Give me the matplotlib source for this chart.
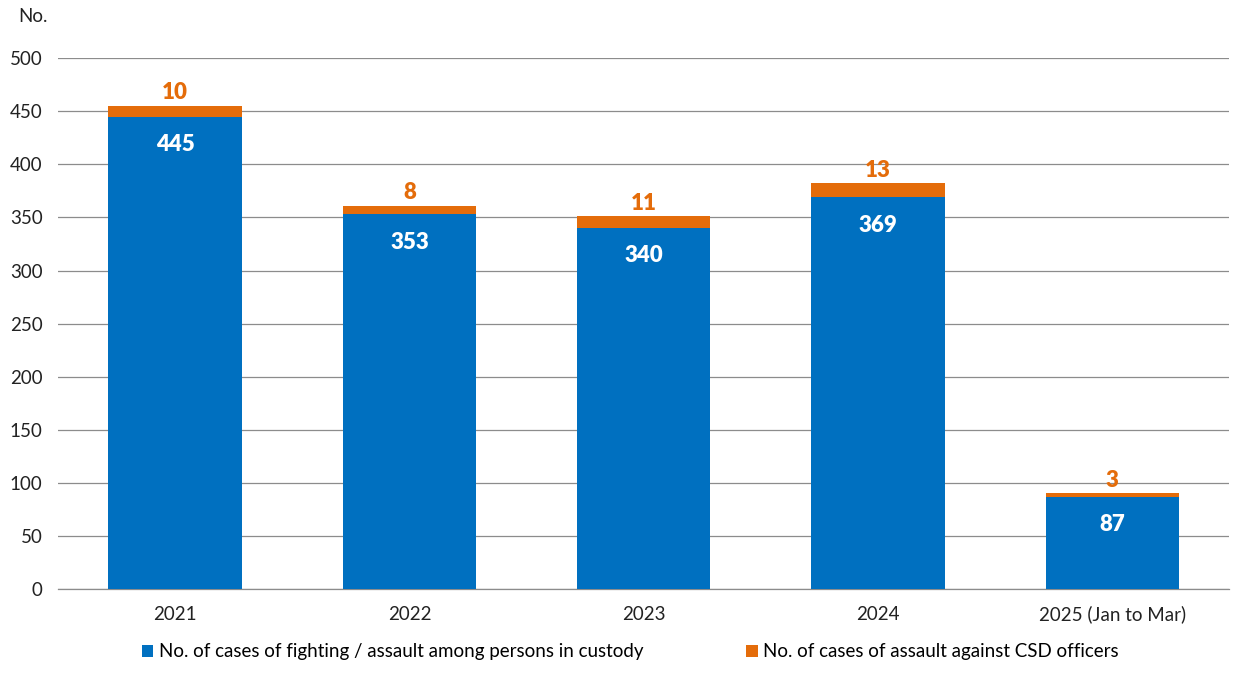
import matplotlib.pyplot as plt
from matplotlib import font_manager

# Chart data
years = ["2021", "2022", "2023", "2024", "2025 (Jan to Mar)"]
fighting_cases = [445, 353, 340, 369, 87]
officer_cases = [10, 8, 11, 13, 3]

blue = "#0070C0"
orange = "#E46C0A"

installed = {f.name for f in font_manager.fontManager.ttflist}
fam = [f for f in ["Liberation Sans Narrow", "Lato", "DejaVu Sans"] if f in installed]
plt.rcParams['font.family'] = fam

fig = plt.figure(figsize=(12.41, 6.77), dpi=100)
ax = fig.add_axes([0.0467, 0.130, 0.944, 0.784])

x = list(range(len(years)))
width = 0.57
ax.bar(x, fighting_cases, width, color=blue, zorder=3,
       label="No. of cases of fighting / assault among persons in custody")
ax.bar(x, officer_cases, width, bottom=fighting_cases, color=orange, zorder=3,
       label="No. of cases of assault against CSD officers")

for i in x:
    ax.annotate(str(fighting_cases[i]), (i, fighting_cases[i]), xytext=(0, -20),
                textcoords="offset points", ha="center", va="center",
                color="white", fontsize=16, fontweight="heavy", zorder=4)
    top = fighting_cases[i] + officer_cases[i]
    ax.annotate(str(officer_cases[i]), (i, top), xytext=(0, 9.5),
                textcoords="offset points", ha="center", va="center",
                color=orange, fontsize=16, fontweight="heavy", zorder=4)

ax.set_xlim(-0.5, len(years) - 0.5)
ax.set_ylim(0, 500)
ax.set_yticks(range(0, 501, 50))
ax.set_xticks(x)
ax.set_xticklabels(years)
ax.yaxis.grid(True, color="#8c8c8c", linewidth=0.9, zorder=0)
ax.tick_params(axis="both", length=0, labelsize=13.5, colors="#222222")
ax.tick_params(axis="y", pad=11)
ax.tick_params(axis="x", pad=12)
for s in ["top", "right", "left"]:
    ax.spines[s].set_visible(False)
ax.spines["bottom"].set_color("#8c8c8c")
ax.spines["bottom"].set_linewidth(0.9)

fig.text(18 / 1241, 1 - 17 / 677, "No.", fontsize=13.5, va="center", ha="left", color="#222222")

fig.legend(loc="center", bbox_to_anchor=(0.508, 1 - 652 / 677), ncol=2, frameon=False,
           fontsize=13.5, handlelength=0.6, handleheight=0.6, handletextpad=0.3,
           columnspacing=5.5)

fig.savefig("out.png", dpi=100)
